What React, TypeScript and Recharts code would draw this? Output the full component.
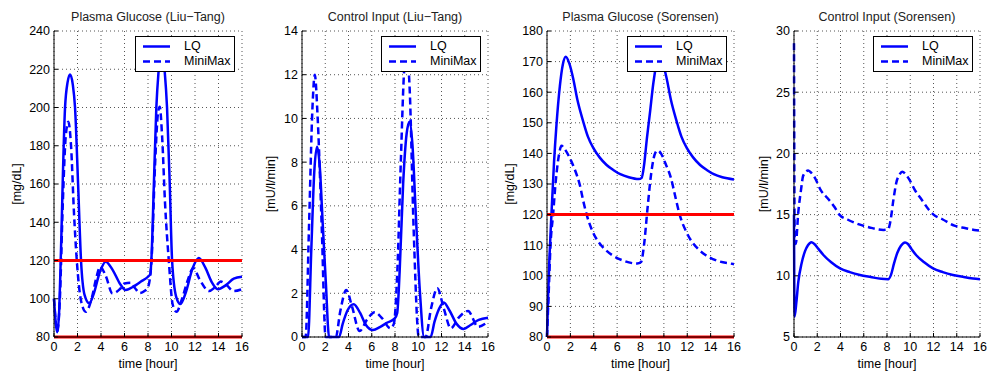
import React from 'react'
import { LineChart, Line, XAxis, YAxis, CartesianGrid, ReferenceLine, Legend } from 'recharts'

const FONT = '"Liberation Sans", Arial, Helvetica, sans-serif'

const hours = [0, 2, 4, 6, 8, 10, 12, 14, 16]

// [time (h), value]
const ltGlucoseLq = [
    [0, 100], [0.28, 82.5], [0.45, 95], [0.57, 120], [0.94, 200], [1.15, 213], [1.37, 217.3], [1.6, 212],
    [1.79, 200], [2.05, 160], [2.3, 120], [2.6, 102], [3.0, 97.6], [3.4, 103], [3.9, 114], [4.4, 119.4],
    [5.0, 115], [5.6, 108], [6.1, 104.6], [6.8, 106.5], [7.4, 109], [8.0, 111.5], [8.2, 113], [8.3, 122],
    [8.5, 160], [8.71, 200], [8.9, 219], [9.15, 232], [9.42, 219], [9.62, 200], [9.85, 160], [10.05, 120],
    [10.4, 101], [10.76, 97.2], [11.2, 103], [11.8, 116], [12.32, 121.3], [12.9, 116], [13.4, 109],
    [13.95, 105], [14.6, 107], [15.3, 110.5], [16, 111.5],
]
const ltGlucoseMm = [
    [0, 100], [0.28, 83], [0.5, 100], [0.75, 150], [1.0, 185], [1.22, 192.6], [1.45, 180], [1.7, 145],
    [1.94, 120], [2.3, 99], [2.7, 93.2], [3.2, 100], [3.6, 111], [3.93, 116.8], [4.4, 112], [4.98, 102.8],
    [5.6, 105], [6.0, 108], [6.55, 108.4], [6.9, 105.5], [7.3, 103], [7.7, 104], [8.0, 106], [8.3, 120],
    [8.6, 170], [8.85, 197], [9.0, 200.4], [9.2, 185], [9.45, 150], [9.77, 120], [10.1, 97], [10.42, 93.2],
    [10.9, 100], [11.4, 110], [11.85, 116], [12.4, 110], [13.2, 104], [13.7, 106], [14.2, 109], [14.7, 107],
    [15.3, 104], [16, 105],
]
const ltInputLq = [
    [0, 0], [0.52, 0], [0.8, 4], [1.05, 7.5], [1.29, 8.7], [1.5, 8], [1.8, 5], [2.05, 2.5], [2.33, 0],
    [3.19, 0], [3.5, 0.6], [3.9, 1.2], [4.45, 1.5], [5.0, 1.1], [5.5, 0.55], [6.1, 0.32], [6.7, 0.45],
    [7.3, 0.65], [7.98, 0.85], [8.19, 1.1], [8.4, 3], [8.7, 7], [9.0, 9.3], [9.25, 9.85], [9.5, 8.8],
    [9.8, 5.5], [10.15, 2], [10.5, 0], [11.06, 0], [11.4, 0.7], [11.8, 1.3], [12.2, 1.58], [12.7, 1.2],
    [13.3, 0.6], [13.9, 0.37], [14.5, 0.55], [15.2, 0.78], [16, 0.88],
]
const ltInputMm = [
    [0, 0], [0.31, 0], [0.6, 5], [0.9, 10.5], [1.1, 12], [1.35, 10], [1.7, 5], [2.03, 0], [2.9, 0],
    [3.3, 1.2], [3.81, 2.15], [4.3, 1.4], [4.95, 0.27], [5.6, 0.8], [6.26, 1.13], [6.9, 0.85], [7.6, 0.4],
    [7.9, 0.6], [8.2, 3], [8.5, 8], [8.8, 12.3], [9.0, 13], [9.25, 11.5], [9.6, 5], [10.05, 0], [10.63, 0],
    [11.1, 1.3], [11.64, 2.23], [12.2, 1.3], [12.8, 0.4], [13.5, 0.9], [14.28, 1.19], [15.14, 0.47], [16, 0.7],
]
const soGlucoseLq = [
    [0, 80], [0.1, 94], [0.2, 105], [0.38, 120], [0.6, 137], [0.81, 149.3], [1.1, 162], [1.35, 169],
    [1.61, 171.6], [1.9, 169.5], [2.24, 164.5], [2.6, 157.5], [3.1, 150.4], [3.5, 145.5], [3.97, 141.7],
    [4.5, 138.7], [5.1, 136.2], [5.7, 134.5], [6.27, 133.2], [7.0, 132.2], [7.85, 131.6], [8.1, 132],
    [8.3, 136], [8.55, 145], [8.8, 153], [9.1, 163], [9.35, 169], [9.6, 171.6], [9.9, 169.5], [10.24, 164.5],
    [10.6, 157.5], [11.1, 150.4], [11.5, 145.5], [11.97, 141.7], [12.5, 138.7], [13.1, 136.2], [13.7, 134.5],
    [14.27, 133.2], [15.0, 132.2], [16, 131.5],
]
const soGlucoseMm = [
    [0, 80], [0.15, 95], [0.3, 110], [0.52, 120], [0.75, 131], [1.0, 139], [1.24, 142.5], [1.5, 141.5],
    [1.96, 138.4], [2.4, 134.5], [2.82, 129.5], [3.1, 124.5], [3.4, 119.9], [3.9, 114.5], [4.4, 111.1],
    [5.0, 108.5], [5.56, 106.8], [6.5, 105], [7.71, 104], [8.05, 104.5], [8.3, 110], [8.6, 122], [8.9, 133],
    [9.2, 139.5], [9.45, 141], [9.75, 140], [10.1, 137], [10.6, 132], [11.0, 125.5], [11.35, 120],
    [11.9, 114.5], [12.4, 111.1], [13.0, 108.5], [13.56, 106.8], [14.5, 105], [15.7, 104], [16, 103.8],
]
const soInputLq = [
    [0, 15], [0.05, 6.66], [0.2, 7.8], [0.37, 9.5], [0.65, 11], [0.94, 12], [1.2, 12.5], [1.5, 12.75],
    [1.75, 12.6], [2.1, 12.2], [2.53, 11.7], [3.2, 11.1], [3.96, 10.6], [4.8, 10.3], [5.67, 10.07], [6.6, 9.9],
    [7.5, 9.75], [8.1, 9.72], [8.35, 10.1], [8.6, 11], [8.9, 11.9], [9.2, 12.45], [9.55, 12.72], [9.8, 12.6],
    [10.1, 12.2], [10.5, 11.7], [11.2, 11.1], [11.96, 10.6], [12.8, 10.3], [13.67, 10.07], [14.6, 9.9],
    [15.4, 9.78], [16, 9.72],
]
const soInputMm = [
    [0, 29], [0.06, 13], [0.15, 12.6], [0.37, 15.2], [0.6, 17], [0.8, 18.2], [1.22, 18.6], [1.5, 18.4],
    [1.8, 18.0], [2.3, 17.0], [2.93, 16.3], [3.5, 15.6], [3.9, 15.0], [4.6, 14.6], [5.6, 14.2], [6.5, 13.95],
    [7.7, 13.75], [8.1, 13.8], [8.3, 14.5], [8.55, 16.2], [8.8, 17.6], [9.1, 18.3], [9.3, 18.5], [9.6, 18.3],
    [9.9, 17.9], [10.4, 17.0], [11.0, 16.2], [11.6, 15.4], [12.0, 15.0], [12.8, 14.6], [13.8, 14.1],
    [14.7, 13.9], [15.5, 13.75], [16, 13.7],
]

const glucoseTicks = [80, 100, 120, 140, 160, 180, 200, 220, 240]
const ltInputTicks = [0, 2, 4, 6, 8, 10, 12, 14]
const soGlucoseTicks = [80, 90, 100, 110, 120, 130, 140, 150, 160, 170, 180]
const soInputTicks = [5, 10, 15, 20, 25, 30]
const glucoseLimits = [80, 120]

const toRows = (pts: number[][]) => pts.map(([t, v]) => ({ t, v }))

const panels = [
    { left: 0, plotLeft: 54, plotRight: 242, ylabelX: 17, title: 'Plasma Glucose (Liu\u2212Tang)', ylabel: '[mg/dL]', ticks: glucoseTicks, lq: ltGlucoseLq, mm: ltGlucoseMm, limits: glucoseLimits },
    { left: 246, plotLeft: 302, plotRight: 488, ylabelX: 271, title: 'Control Input (Liu\u2212Tang)', ylabel: '[mU/l/min]', ticks: ltInputTicks, lq: ltInputLq, mm: ltInputMm, limits: [] },
    { left: 492, plotLeft: 547, plotRight: 734, ylabelX: 510, title: 'Plasma Glucose (Sorensen)', ylabel: '[mg/dL]', ticks: soGlucoseTicks, lq: soGlucoseLq, mm: soGlucoseMm, limits: glucoseLimits },
    { left: 738, plotLeft: 794, plotRight: 980, ylabelX: 764, title: 'Control Input (Sorensen)', ylabel: '[mU/l/min]', ticks: soInputTicks, lq: soInputLq, mm: soInputMm, limits: [] },
]

const renderLegend = (props: any) => {
    const payload = props.payload || []
    return (
        <div style={{ width: 100, height: 36, border: '1px solid #000', background: '#fff', boxSizing: 'border-box', position: 'relative', fontFamily: FONT }}>
            {payload.map((entry: any, i: number) => (
                <div key={i} style={{ position: 'absolute', left: 7, top: 2 + i * 15, height: 15, display: 'flex', alignItems: 'center' }}>
                    <svg width={27} height={15}>
                        <line x1={0} y1={7.5} x2={27} y2={7.5} stroke="#0000ff" strokeWidth={2.5}
                            strokeDasharray={entry.payload?.strokeDasharray} />
                    </svg>
                    <span style={{ marginLeft: 14, fontSize: 12.5, color: '#000', lineHeight: '15px' }}>{entry.value}</span>
                </div>
            ))}
        </div>
    )
}

function Panel({ p }: { p: any }) {
    const axisW = p.plotLeft - p.left
    const width = p.plotRight + 14 - p.left
    const domain = [p.ticks[0], p.ticks[p.ticks.length - 1]]
    const tickStyle = { fill: '#000', fontSize: 12.5 }
    return (
        <div style={{ position: 'absolute', left: p.left, top: 0, width, height: 372 }}>
            <div style={{ position: 'absolute', left: axisW, top: 10, width: p.plotRight - p.plotLeft, textAlign: 'center', fontSize: 12.5, lineHeight: '14px', color: '#222', whiteSpace: 'nowrap' }}>
                {p.title}
            </div>
            <LineChart width={width} height={372} margin={{ top: 31, right: 14, bottom: 0, left: 0 }}>
                <CartesianGrid stroke="#555" strokeDasharray="1 3" />
                <XAxis dataKey="t" type="number" domain={[0, 16]} ticks={hours} interval={0} height={35}
                    tickSize={-4} tickMargin={9} tick={tickStyle} axisLine={{ stroke: '#000' }} tickLine={{ stroke: '#000' }}
                    label={{ value: 'time [hour]', position: 'insideBottom', offset: 4, fill: '#000', fontSize: 12.5 }} />
                <XAxis xAxisId="top" orientation="top" dataKey="t" type="number" domain={[0, 16]} ticks={hours} interval={0}
                    height={0} tick={false} tickSize={-4} axisLine={{ stroke: '#000' }} tickLine={{ stroke: '#000' }} />
                <YAxis type="number" domain={domain} ticks={p.ticks} interval={0} width={axisW}
                    tickSize={-4} tickMargin={8} tick={tickStyle} axisLine={{ stroke: '#000' }} tickLine={{ stroke: '#000' }}
                    label={{ value: p.ylabel, angle: -90, position: 'center', dx: p.ylabelX - p.left - axisW / 2, fill: '#000', fontSize: 12.5 }} />
                <YAxis yAxisId="r" orientation="right" type="number" domain={domain} ticks={p.ticks} interval={0} width={0}
                    tick={false} tickSize={-4} axisLine={{ stroke: '#000' }} tickLine={{ stroke: '#000' }} />
                <Line data={toRows(p.lq)} dataKey="v" name="LQ" type="monotone" stroke="#0000ff" strokeWidth={2.5}
                    dot={false} isAnimationActive={false} />
                <Line data={toRows(p.mm)} dataKey="v" name="MiniMax" type="monotone" stroke="#0000ff" strokeWidth={2.5}
                    strokeDasharray="7 4" dot={false} isAnimationActive={false} />
                {p.limits.map((y: number) => (
                    <ReferenceLine key={y} y={y} stroke="#ff0000" strokeWidth={3} />
                ))}
                <Legend layout="vertical" align="center" verticalAlign="middle" content={renderLegend}
                    wrapperStyle={{ left: p.plotRight - 107 - p.left, top: 36, width: 100 }} />
            </LineChart>
        </div>
    )
}

export default function App() {
    return (
        <div style={{ position: 'absolute', left: 0, top: 0, width: 987, height: 372, background: '#fff', fontFamily: FONT }}>
            {panels.map((p, i) => <Panel key={i} p={p} />)}
        </div>
    )
}
